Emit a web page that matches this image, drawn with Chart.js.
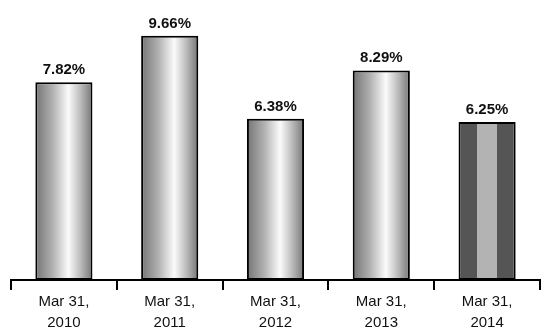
<!DOCTYPE html>
<html>
<head>
<meta charset="utf-8">
<script src="https://cdn.jsdelivr.net/npm/chart.js@4.4.1/dist/chart.umd.min.js"></script>
<style>
  html, body { margin: 0; padding: 0; background: #fff; }
  #wrap { width: 541px; height: 329px; }
</style>
</head>
<body>
<div id="wrap"><canvas id="chart" width="541" height="329"></canvas></div>
<script>
const categories = ['Mar 31, 2010', 'Mar 31, 2011', 'Mar 31, 2012', 'Mar 31, 2013', 'Mar 31, 2014']
const ratios = [7.82, 9.66, 6.38, 8.29, 6.25]
const valueLabels = ['7.82%', '9.66%', '6.38%', '8.29%', '6.25%']

const BAR_PCT = 0.54

// cylinder shading for every bar, flat stripes for the latest year
function barFill(context) {
  const chart = context.chart
  const xScale = chart.scales.x
  if (!xScale || context.dataIndex === undefined) return '#bbbbbb'
  const cx = xScale.getPixelForValue(context.dataIndex)
  const half = (xScale.width / categories.length) * BAR_PCT / 2
  if (!isFinite(cx) || !isFinite(half) || half <= 0) return '#bbbbbb'
  const g = chart.ctx.createLinearGradient(cx - half, 0, cx + half, 0)
  if (context.dataIndex === ratios.length - 1) {
    g.addColorStop(0, '#555555')
    g.addColorStop(0.33, '#555555')
    g.addColorStop(0.33, '#b3b3b3')
    g.addColorStop(0.68, '#b3b3b3')
    g.addColorStop(0.68, '#555555')
    g.addColorStop(1, '#555555')
  } else {
    g.addColorStop(0, '#747474')
    g.addColorStop(0.3, '#b0b0b0')
    g.addColorStop(0.58, '#fbfbfb')
    g.addColorStop(0.8, '#b8b8b8')
    g.addColorStop(1, '#767676')
  }
  return g
}

const valueText = {
  id: 'valueText',
  afterDatasetsDraw(chart) {
    const ctx = chart.ctx
    ctx.save()
    ctx.font = 'bold 15px "Liberation Sans", Arial, sans-serif'
    ctx.fillStyle = '#111111'
    ctx.textAlign = 'center'
    ctx.textBaseline = 'alphabetic'
    chart.getDatasetMeta(0).data.forEach((bar, i) => {
      ctx.fillText(valueLabels[i], bar.x, bar.y - 8)
    })
    ctx.restore()
  }
}

new Chart(document.getElementById('chart'), {
  type: 'bar',
  data: {
    labels: categories.map(c => {
      const cut = c.lastIndexOf(' ')
      return [c.slice(0, cut), c.slice(cut + 1)]
    }),
    datasets: [{
      data: ratios,
      backgroundColor: barFill,
      borderColor: '#000000',
      borderWidth: 2,
      borderSkipped: false,
      barPercentage: BAR_PCT,
      categoryPercentage: 1
    }]
  },
  options: {
    responsive: false,
    animation: false,
    layout: { padding: { left: 11, right: 1, top: 2, bottom: 0 } },
    plugins: {
      legend: { display: false },
      tooltip: { enabled: false }
    },
    scales: {
      x: {
        afterFit: scale => { scale.height = 49 },
        grid: {
          display: true,
          drawOnChartArea: false,
          drawTicks: true,
          tickLength: 10,
          color: '#000000',
          lineWidth: 2
        },
        border: { display: true, color: '#000000', width: 2 },
        ticks: {
          color: '#111111',
          padding: 1,
          maxRotation: 0,
          font: { family: '"Liberation Sans", Arial, sans-serif', size: 15, lineHeight: '21px' }
        }
      },
      y: {
        display: false,
        min: 0,
        max: 11
      }
    }
  },
  plugins: [valueText]
})
</script>
</body>
</html>
